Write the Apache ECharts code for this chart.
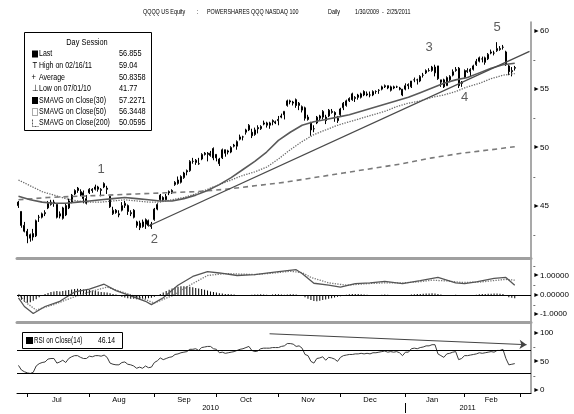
<!DOCTYPE html>
<html><head><meta charset="utf-8">
<script src="https://cdn.jsdelivr.net/npm/echarts/dist/echarts.min.js"></script>
<style>html,body{margin:0;padding:0;background:#fff}#c{width:574px;height:414px}</style>
</head><body><div id="c"></div>
<script>
// ---- categories (trading days) ----
const holidays = ['2010-07-05','2010-09-06','2010-11-25','2010-12-24','2011-01-17','2011-02-21'];
const firstDay = '2010-06-28', lastDay = '2011-03-04';
const dates = [];
for (let t = Date.parse(firstDay + 'T00:00:00Z'); t <= Date.parse(lastDay + 'T00:00:00Z'); t += 86400000) {
  const d = new Date(t), wd = d.getUTCDay(), s = d.toISOString().slice(0, 10);
  if (wd === 0 || wd === 6 || holidays.includes(s)) continue;
  dates.push(s);
}
const monthNames = ['Jan','Feb','Mar','Apr','May','Jun','Jul','Aug','Sep','Oct','Nov','Dec'];
const labelMonths = ['2010-07','2010-08','2010-09','2010-10','2010-11','2010-12','2011-01','2011-02'];
const labelYears = ['2010','2011'];

// ---- price data (daily OHLC) ----
const open = [
45.3,44.5,43.3,42.8,42.5,42.6,42.4,44.0,44.0,44.3,
44.8,45.1,45.2,45.1,44.1,43.9,45.0,44.8,45.3,46.0,
46.5,46.2,46.1,45.2,46.1,46.4,46.4,46.4,46.3,46.6,
46.5,45.8,44.3,44.6,44.2,44.6,45.0,45.0,44.3,44.6,
43.6,43.1,43.6,43.4,43.7,43.2,43.8,44.7,45.5,45.7,
45.5,46.2,46.1,46.8,46.9,47.0,47.4,48.0,48.0,48.8,
48.7,48.6,49.0,49.5,49.5,49.3,49.9,49.4,49.0,49.1,
49.8,49.7,49.6,50.1,50.1,50.7,50.9,51.3,51.5,51.3,
51.1,51.7,51.6,52.0,51.9,51.9,52.3,52.1,52.4,52.6,
52.8,53.6,53.9,53.8,54.1,53.6,53.2,53.4,52.6,52.1,
51.6,52.1,52.5,52.6,52.6,52.7,53.0,53.0,52.5,52.8,
53.4,53.6,54.0,54.6,54.2,54.5,54.3,54.8,54.5,54.5,
54.5,54.8,54.9,55.0,55.2,55.3,54.9,55.2,55.2,55.1,
55.0,55.0,55.4,55.2,55.8,55.8,55.7,56.2,56.4,56.6,
56.6,56.4,57.0,55.8,55.8,55.3,55.8,56.2,56.6,56.8,
55.5,56.0,56.5,56.5,56.7,57.1,57.4,57.6,57.3,57.6,
58.1,58.1,58.3,58.4,58.6,58.2,57.0,56.5,56.8];
const close = [
45.0,43.3,42.8,42.4,42.2,42.3,43.7,44.0,44.3,44.4,
45.2,45.3,45.3,44.0,44.3,44.8,44.2,45.4,45.9,46.3,
46.3,45.9,45.6,45.6,46.4,46.3,46.6,46.6,46.4,46.9,
46.4,44.9,44.6,44.4,44.3,45.0,45.2,44.5,44.4,44.0,
43.3,43.5,43.2,43.8,43.3,43.4,44.7,45.1,45.9,45.5,
45.8,46.1,46.3,47.0,47.2,47.5,47.8,47.9,48.8,48.8,
48.9,48.6,49.4,49.4,49.4,49.5,49.1,49.1,48.6,49.8,
49.5,49.6,50.0,50.2,50.5,50.9,50.9,51.5,51.9,51.0,
51.5,51.6,51.8,52.1,52.1,52.1,52.2,52.2,52.3,52.7,
53.1,54.0,54.0,53.9,53.6,53.8,53.5,52.5,52.4,51.5,
51.6,52.6,52.7,53.1,52.3,53.2,53.1,52.8,52.3,53.3,
53.8,54.0,54.2,54.1,54.3,54.3,54.6,54.5,54.6,54.5,
54.8,54.8,54.9,55.2,55.3,55.1,55.2,55.1,55.2,55.0,
54.5,55.3,55.3,55.7,55.8,55.8,56.1,56.2,56.6,56.6,
56.9,56.9,55.9,55.6,55.2,56.0,56.1,56.5,56.7,55.3,
55.6,56.6,56.6,56.7,57.0,57.4,57.7,57.6,57.7,58.0,
58.2,58.1,58.5,58.5,58.6,57.1,56.5,56.6,56.86];
const high = [
45.4,44.5,43.6,43.0,42.6,43.0,43.8,44.2,44.4,44.6,
45.4,45.5,45.5,45.1,44.5,44.9,45.2,45.6,46.0,46.4,
46.6,46.4,46.3,45.9,46.5,46.5,46.8,46.7,46.5,47.0,
46.7,45.8,44.9,44.7,44.6,45.3,45.4,45.1,44.6,44.7,
43.7,43.7,43.8,43.9,43.8,43.6,44.8,45.2,46.0,45.8,
46.0,46.3,46.4,47.1,47.5,47.6,47.9,48.1,48.9,49.1,
49.0,49.1,49.5,49.6,49.6,49.7,50.0,49.4,49.1,49.9,
49.8,49.8,50.1,50.3,50.6,51.1,51.0,51.6,52.0,51.6,
51.7,51.9,51.9,52.3,52.2,52.2,52.4,52.3,52.7,52.9,
53.1,54.1,54.1,54.0,54.2,53.9,53.6,53.5,52.8,52.2,
51.9,52.7,52.8,53.2,52.8,53.3,53.3,53.1,52.7,53.4,
53.9,54.1,54.3,54.7,54.4,54.6,54.7,54.9,54.8,54.8,
54.9,54.9,55.0,55.3,55.4,55.3,55.3,55.3,55.3,55.2,
55.0,55.5,55.5,55.7,56.0,55.9,56.2,56.4,56.7,56.8,
57.0,57.1,57.0,55.8,55.9,56.1,56.2,56.7,56.9,56.9,
55.7,56.7,56.8,56.8,57.1,57.6,57.8,57.8,57.8,58.1,
58.4,58.3,59.04,58.7,58.8,58.3,57.1,56.9,57.0];
const low = [
44.8,43.1,42.7,41.77,41.9,42.0,42.3,43.6,43.9,44.1,
44.7,45.0,44.9,43.9,43.9,43.8,44.1,44.7,45.2,45.9,
46.1,45.8,45.2,45.1,46.0,46.1,46.3,46.2,45.8,46.5,
46.0,44.8,44.2,44.3,44.0,44.5,44.8,44.2,44.1,43.9,
43.1,42.9,43.1,43.0,43.2,43.0,43.7,44.6,45.4,45.4,
45.5,45.9,46.0,46.7,46.8,46.9,47.3,47.6,47.9,48.6,
48.5,48.5,48.9,49.3,48.8,49.2,48.9,48.8,48.4,49.0,
49.2,49.4,49.5,50.0,49.8,50.6,50.6,51.1,51.4,50.8,
51.0,51.2,51.5,51.9,51.7,51.6,51.9,52.0,51.9,52.5,
52.4,53.5,53.7,53.6,53.4,53.2,53.0,52.3,52.3,51.0,
51.3,52.0,52.3,52.4,52.0,52.6,52.9,52.2,52.1,52.7,
53.2,53.5,53.9,54.0,53.9,54.1,54.2,54.4,54.4,54.3,
54.4,54.6,54.6,54.9,55.1,55.0,54.8,55.0,55.1,54.9,
54.4,54.9,55.0,55.1,55.6,55.4,55.6,56.0,56.3,56.5,
56.5,56.1,55.8,55.2,55.1,55.3,55.6,56.1,56.5,55.1,
55.2,55.9,56.4,56.1,56.6,57.0,57.3,57.3,57.1,57.5,
58.0,57.9,58.2,58.3,58.4,57.0,56.2,56.1,56.6];

// ---- moving averages (read at sampled days) ----
const maDays = [0,4,8,12,16,20,24,28,32,36,40,44,48,52,56,60,64,68,72,76,80,84,88,92,96,100,104,108,112,116,120,124,128,132,136,140,144,148,152,156,160,164,168];
const sma30 = [45.8,45.5,45.3,45.2,45.2,45.3,45.4,45.5,45.6,45.7,45.6,45.5,45.4,45.4,45.6,45.9,46.3,46.8,47.4,48.1,48.8,49.6,50.6,51.3,51.9,52.2,52.4,52.6,52.8,53.1,53.4,53.7,54.0,54.3,54.7,55.1,55.5,55.8,56.0,56.4,56.8,57.1,57.23];
const sma50 = [47.2,46.7,46.2,45.9,45.6,45.4,45.3,45.3,45.4,45.5,45.4,45.3,45.3,45.5,45.7,46.0,46.4,46.8,47.2,47.6,47.9,48.3,49.0,49.8,50.5,51.1,51.5,51.9,52.2,52.5,52.8,53.1,53.5,53.8,54.0,54.3,54.5,54.8,55.2,55.5,55.9,56.2,56.34];
const ma200Days = [0,10,20,30,40,50,60,70,80,90,100,110,120,130,140,150,160,168];
const sma200 = [45.5,45.7,45.8,45.9,46.0,46.1,46.2,46.4,46.7,47.0,47.4,47.8,48.2,48.6,49.1,49.5,49.8,50.06];

// ---- trend line and wave labels ----
const trendDays = [44,173];
const trendPrice = [43.25,58.25];
const waveText = ['1','2','3','4','5'];
const waveDay = [28,46,139,151,162];
const wavePrice = [48.1,42.1,58.6,54.3,60.3];

// ---- MACD ----
const macdDays = [0,2,5,9,14,19,24,29,33,38,43,45,49,54,59,64,68,74,80,86,91,94,96,100,105,109,114,119,124,130,136,142,148,151,155,161,165,168];
const macd = [-0.15,-0.6,-0.96,-0.6,-0.33,0.15,0.3,0.55,0.22,-0.05,-0.33,-0.5,-0.15,0.5,0.95,1.2,1.13,1.0,1.05,1.16,1.25,1.3,1.1,0.6,0.5,0.4,0.58,0.62,0.7,0.58,0.73,0.9,0.62,0.58,0.67,0.85,0.9,0.5];
const sigDays = [0,3,6,12,18,25,30,35,43,46,52,58,64,70,80,86,92,96,99,105,111,118,124,130,136,140,145,150,156,161,165,168];
const signal = [0.04,-0.45,-0.78,-0.5,-0.15,0.2,0.4,0.15,-0.24,-0.42,-0.05,0.5,1.0,1.1,1.05,1.12,1.22,1.15,0.9,0.62,0.5,0.58,0.62,0.62,0.68,0.76,0.72,0.64,0.66,0.74,0.8,0.76];
const hist = [
-0.10,-0.25,-0.35,-0.40,-0.38,-0.30,-0.22,-0.12,-0.05,
0.05,0.10,0.15,0.18,0.20,0.18,0.20,0.22,0.25,0.28,0.30,0.32,0.30,0.28,0.27,0.25,0.22,0.20,0.17,0.15,0.14,0.12,0.08,0.05,0.02,
-0.05,-0.10,-0.14,-0.17,-0.20,-0.20,-0.22,-0.24,-0.22,-0.20,-0.18,-0.15,-0.10,-0.04,
0.05,0.12,0.20,0.27,0.33,0.38,0.42,0.45,0.45,0.44,0.42,0.40,0.36,0.33,0.30,0.26,0.22,0.18,0.15,0.12,0.09,0.07,0.05,0.04,0.03,0.02,
0,-0.01,-0.02,-0.01,0,0.01,0.02,0.02,0.03,0.02,0.01,0,0.02,0.03,0.03,0.02,0.01,0.02,0.03,0.03,0.02,-0.02,-0.06,
-0.12,-0.20,-0.27,-0.32,-0.33,-0.30,-0.27,-0.24,-0.20,-0.17,-0.14,-0.10,-0.07,-0.03,
0.01,0.03,0.04,0.05,0.04,0.03,0.02,0.01,0,0,-0.01,0,0.01,0.02,0.01,0,-0.01,-0.02,-0.02,-0.03,
-0.02,0,0.02,0.03,0.04,0.05,0.06,0.07,0.07,0.08,0.07,0.05,0.02,-0.02,-0.03,-0.02,0,0.01,-0.04,-0.06,
-0.05,-0.04,-0.02,0,0.01,0.03,0.04,0.05,0.06,0.06,0.07,0.07,0.06,0.05,-0.05,-0.12,-0.15,-0.17];

// ---- RSI(14) ----
const rsi = [
43,35,32,30,29,31,42,46,48,49,
54,55,55,47,49,52,48,55,58,60,
60,57,55,55,59,58,60,60,59,61,
57,47,45,44,44,48,49,45,44,42,
38,40,38,42,39,40,48,51,56,53,
55,57,58,62,63,65,66,67,71,71,
72,69,74,75,76,76,72,71,65,66,
64,65,66,67,69,71,72,74,76,69,
67,68,72,73,73,73,74,74,74,76,
77,81,81,80,76,77,73,62,60,50,
47,55,56,58,52,57,56,54,50,57,
60,61,62,62,63,63,64,63,64,63,
65,65,66,67,68,66,67,66,67,65,
60,66,66,72,73,72,74,75,77,77,
79,79,63,60,57,63,64,66,67,53,
55,60,60,61,62,63,65,64,65,66,
67,66,69,69,71,55,44,45,46.14];
const rsiTrendDays = [85,172];
const rsiTrendVals = [98,79];

// ---- legend texts ----
const legendRows = [
  ['Last','56.855'],['High on 02/16/11','59.04'],['Average','50.8358'],['Low on 07/01/10','41.77'],
  ['SMAVG on Close(30)','57.2271'],['SMAVG on Close(50)','56.3448'],['SMAVG on Close(200)','50.0595']];

// ================= chart =================
const FONT = '"Liberation Sans",sans-serif';
const monthOf = d => d.slice(0, 7);
const firstIdx = {}, lastIdx = {};
dates.forEach((d, i) => { const m = monthOf(d); if (!(m in firstIdx)) firstIdx[m] = i; lastIdx[m] = i; });
const midLabel = {};
labelMonths.forEach(m => { midLabel[Math.floor((firstIdx[m] + lastIdx[m]) / 2)] = monthNames[+m.slice(5) - 1]; });
const yearFirst = {}, yearLast = {};
dates.forEach((d, i) => { const y = d.slice(0, 4); if (!(y in yearFirst)) yearFirst[y] = i; yearLast[y] = i; });
const yearMid = {};
labelYears.forEach(y => { yearMid[Math.floor((yearFirst[y] + yearLast[y]) / 2)] = y; });

const L = 17, R = 43;
const axisGrey = '#8c8c8c';
const sepGrey = '#a0a0a0';
const rich = { m: { fontSize: 7, fontFamily: FONT, color: '#000' }, v: { fontSize: 8, fontFamily: FONT, color: '#000' }, t: { fontSize: 8, fontFamily: FONT, color: '#000' } };

function yBase(grid, min, max, interval, fmt) {
  return {
    gridIndex: grid, type: 'value', position: 'right', min: min, max: max, interval: interval,
    axisLine: { show: true, lineStyle: { color: axisGrey, width: 1.5 } },
    axisTick: { show: false }, splitLine: { show: false },
    axisLabel: { formatter: fmt, rich: rich, margin: 2, fontSize: 8, fontFamily: FONT, color: '#000' }
  };
}
const priceFmt = v => { const r = Math.round(v * 10); if (r % 50 === 0) return '{m|►}{v|' + Math.round(v) + '}'; if (r % 25 === 0) return '{t|-}'; return ''; };
const macdFmt = v => { const r = Math.round(v * 10); if (r % 10 === 0) { const k = r / 10; return '{m|►}{v|' + (k === 0 ? '0.00000' : (k > 0 ? k.toFixed(5) : k.toFixed(4))) + '}'; } if (r % 5 === 0) return '{t|-}'; return ''; };
const rsiFmt = v => { const r = Math.round(v); if (r % 50 === 0 && r >= 0) return '{m|►}{v|' + r + '}'; if (r % 25 === 0 && r > 0) return '{t|-}'; return ''; };

const xHidden = (grid, color, width) => ({
  gridIndex: grid, type: 'category', data: dates, boundaryGap: true, position: 'bottom',
  axisLine: { show: true, onZero: false, lineStyle: { color: color, width: width } },
  axisTick: { show: false }, axisLabel: { show: false }, splitLine: { show: false }
});

function txt(x, y, text, size, sx, extra) {
  return Object.assign({ type: 'text', x: x, y: y, scaleX: sx, z: 11,
    style: { text: text, fontSize: size, fontFamily: FONT, fill: '#000', verticalAlign: 'middle', textVerticalAlign: 'middle' } }, extra || {});
}
const graphic = [];
// header
[['QQQQ US Equity', 143], [':', 197], ['POWERSHARES QQQ NASDAQ 100', 207], ['Daily', 328], ['1/30/2009  -  2/25/2011', 355]].forEach(h => {
  graphic.push(txt(h[1], 12, h[0], 7.5, 0.72));
});
// price legend box
graphic.push({ type: 'rect', shape: { x: 24.5, y: 32.5, width: 127, height: 98 }, style: { fill: '#fff', stroke: '#000', lineWidth: 1 }, z: 10 });
graphic.push({ type: 'text', x: 87, y: 43, scaleX: 0.82, z: 11, style: { text: 'Day Session', fontSize: 9, fontFamily: FONT, fill: '#000', align: 'center', textAlign: 'center', verticalAlign: 'middle', textVerticalAlign: 'middle' } });
const rowY = [54, 66, 77.5, 89, 100.5, 112, 123];
legendRows.forEach((r, k) => {
  graphic.push(txt(39, rowY[k], r[0], 9, 0.78));
  graphic.push(txt(119, rowY[k], r[1], 9, 0.82));
});
graphic.push({ type: 'rect', shape: { x: 32, y: 50.5, width: 6, height: 7 }, style: { fill: '#000' }, z: 11 });
graphic.push(txt(32.5, 66, 'T', 9, 0.85));
graphic.push(txt(31.5, 77.5, '+', 9, 0.85));
graphic.push(txt(32, 89, '⊥', 9, 0.85));
graphic.push({ type: 'rect', shape: { x: 32, y: 97, width: 6, height: 7 }, style: { fill: '#000' }, z: 11 });
graphic.push({ type: 'rect', shape: { x: 32.5, y: 108.5, width: 5, height: 7 }, style: { fill: 'none', stroke: '#555', lineWidth: 1, lineDash: [1, 1] }, z: 11 });
graphic.push({ type: 'polyline', shape: { points: [[32.5, 119.5], [32.5, 126.5], [38.5, 126.5]] }, style: { fill: 'none', stroke: '#555', lineWidth: 1, lineDash: [2, 1] }, z: 11 });
// RSI legend box
graphic.push({ type: 'rect', shape: { x: 22.5, y: 332.5, width: 100, height: 16 }, style: { fill: '#fff', stroke: '#000', lineWidth: 1 }, z: 10 });
graphic.push({ type: 'rect', shape: { x: 26, y: 337, width: 7, height: 7 }, style: { fill: '#000' }, z: 11 });
graphic.push(txt(34, 340.5, 'RSI on Close(14)', 8.5, 0.74));
graphic.push(txt(98, 340.5, '46.14', 8.5, 0.8));

const option = {
  animation: false,
  backgroundColor: '#fff',
  textStyle: { fontFamily: FONT },
  grid: [
    { left: L, right: R, top: 22, height: 236, outerBoundsMode: 'none' },
    { left: L, right: R, top: 260, height: 62, outerBoundsMode: 'none' },
    { left: L, right: R, top: 324, height: 69, outerBoundsMode: 'none' }
  ],
  xAxis: [
    xHidden(0, sepGrey, 3),
    xHidden(1, sepGrey, 3),
    {
      gridIndex: 2, type: 'category', data: dates, boundaryGap: true, position: 'bottom',
      axisLine: { show: true, onZero: false, lineStyle: { color: '#000', width: 1 } },
      axisTick: { show: true, length: 4, alignWithLabel: true, interval: (i) => i > 0 && monthOf(dates[i]) !== monthOf(dates[i - 1]), lineStyle: { color: '#000' } },
      axisLabel: { interval: (i) => (i in midLabel), formatter: (v, i) => midLabel[i] || '', fontSize: 7.5, margin: 3, color: '#000', fontFamily: FONT },
      splitLine: { show: false }
    },
    {
      gridIndex: 2, type: 'category', data: dates, boundaryGap: true, position: 'bottom', offset: 10,
      axisLine: { show: false, onZero: false },
      axisTick: { show: true, length: 10, alignWithLabel: true, interval: (i) => i === yearFirst['2011'], lineStyle: { color: '#000' } },
      axisLabel: { interval: (i) => (i in yearMid), formatter: (v, i) => yearMid[i] || '', fontSize: 7.5, margin: 1, color: '#000', fontFamily: FONT },
      splitLine: { show: false }
    }
  ],
  yAxis: [
    yBase(0, 40.5, 60.77, 0.5, priceFmt),
    yBase(1, -1.4, 1.8, 0.1, macdFmt),
    yBase(2, -5, 115, 5, rsiFmt)
  ],
  graphic: graphic,
  series: [
    {
      type: 'candlestick', xAxisIndex: 0, yAxisIndex: 0, barWidth: 1.5,
      data: close.map((c, i) => [open[i], c, low[i], high[i]]),
      itemStyle: { color: '#fff', color0: '#000', borderColor: '#000', borderColor0: '#000', borderWidth: 1 }, z: 2
    },
    { type: 'line', xAxisIndex: 0, yAxisIndex: 0, symbol: 'none', data: ma200Days.map((d, k) => [d, sma200[k]]), lineStyle: { color: '#7a7a7a', width: 1.6, type: [5, 4] }, z: 3 },
    { type: 'line', xAxisIndex: 0, yAxisIndex: 0, symbol: 'none', data: maDays.map((d, k) => [d, sma50[k]]), lineStyle: { color: '#6a6a6a', width: 1.3, type: 'dotted' }, z: 3 },
    { type: 'line', xAxisIndex: 0, yAxisIndex: 0, symbol: 'none', data: maDays.map((d, k) => [d, sma30[k]]), lineStyle: { color: '#5a5a5a', width: 1.6 }, z: 3 },
    { type: 'line', xAxisIndex: 0, yAxisIndex: 0, symbol: 'none', data: trendDays.map((d, k) => [d, trendPrice[k]]), lineStyle: { color: '#4a4a4a', width: 1.3 }, z: 4 },
    {
      type: 'scatter', xAxisIndex: 0, yAxisIndex: 0, symbolSize: 2, itemStyle: { color: 'rgba(0,0,0,0)' },
      data: waveDay.map((d, k) => [d, wavePrice[k], waveText[k]]),
      label: { show: true, position: 'inside', formatter: p => p.value[2], fontSize: 13, color: '#333', fontFamily: FONT }, z: 5
    },
    {
      type: 'bar', xAxisIndex: 1, yAxisIndex: 1, data: hist, barWidth: 1, itemStyle: { color: '#000' },
      markLine: { silent: true, symbol: 'none', label: { show: false }, lineStyle: { color: '#000', width: 1, type: 'solid' }, data: [{ yAxis: 0 }] }
    },
    { type: 'line', xAxisIndex: 1, yAxisIndex: 1, symbol: 'none', data: sigDays.map((d, k) => [d, signal[k]]), lineStyle: { color: '#777', width: 1.3, type: 'dotted' } },
    { type: 'line', xAxisIndex: 1, yAxisIndex: 1, symbol: 'none', data: macdDays.map((d, k) => [d, macd[k]]), lineStyle: { color: '#555', width: 1.3 } },
    {
      type: 'line', xAxisIndex: 2, yAxisIndex: 2, symbol: 'none', data: rsi, lineStyle: { color: '#3a3a3a', width: 1 },
      markLine: {
        silent: true, symbol: 'none', label: { show: false }, lineStyle: { color: '#000', width: 1, type: 'solid' },
        data: [
          { yAxis: 70 }, { yAxis: 30 },
          [{ coord: [dates[rsiTrendDays[0]], rsiTrendVals[0]], symbol: 'none' },
           { coord: [dates[rsiTrendDays[1]], rsiTrendVals[1]], symbol: 'arrow', symbolSize: 7, lineStyle: { color: '#444', width: 1 } }]
        ]
      }
    }
  ]
};
const chart = echarts.init(document.getElementById('c'), null, { renderer: 'canvas' });
chart.setOption(option);
</script></body></html>
